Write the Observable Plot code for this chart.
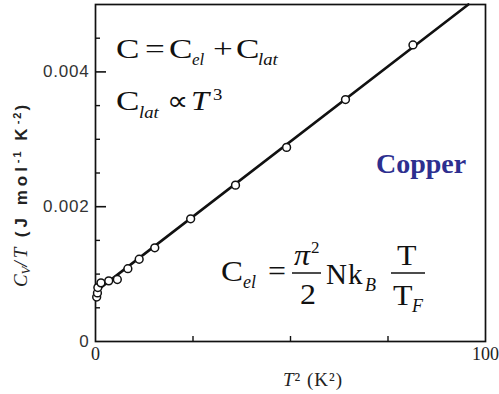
<!DOCTYPE html>
<html><head><meta charset="utf-8">
<script src="https://cdn.jsdelivr.net/npm/d3@7"></script>
<script src="https://cdn.jsdelivr.net/npm/@observablehq/plot@0.6"></script>
<style>
body{margin:0;background:#fff}
#chart{position:relative;width:499px;height:394px}
#chart svg g[aria-label="y-axis tick label"] text{letter-spacing:0.8px}
</style>
</head><body><div id="chart"></div>
<script>
// Measured data: T^2 (K^2) vs Cv/T (J mol^-1 K^-2) for copper
const t2 = [0.3, 0.5, 0.6, 1.4, 3.4, 5.6, 8.3, 11.2, 15.2, 24.4, 35.9, 49.0, 64.1, 81.4];
const cvT = [0.00066, 0.00072, 0.00080, 0.00087, 0.00090, 0.00092, 0.00108, 0.00122, 0.00139, 0.00182, 0.00232, 0.00288, 0.00359, 0.00440];
// Fitted straight line (end points)
const fitT2 = [0, 95.6];
const fitCvT = [0.00074, 0.00500];
// Axis ticks
const xMinorTicks = [25, 50, 75];
const xTickLabels = [0, 100];
const yMinorTicks = [0.0005, 0.001, 0.0015, 0.0025, 0.003, 0.0035, 0.0045];
const yMajorTicks = [0.002, 0.004];
const yTickLabels = [0, 0.002, 0.004];

const points = t2.map((x, i) => ({x, y: cvT[i]}));
const fit = fitT2.map((x, i) => ({x, y: fitCvT[i]}));

const W = 499, H = 394, ML = 95, MR = 14, MT = 4, MB = 53;
const PW = W - ML - MR, PH = H - MT - MB;

const plot = Plot.plot({
  width: W, height: H,
  marginLeft: ML, marginRight: MR, marginTop: MT, marginBottom: MB,
  style: {background: "#fff", color: "#111", overflow: "visible"},
  x: {domain: [0, 100]},
  y: {domain: [0, 0.005]},
  marks: [
    Plot.tickX(xMinorTicks, {x: d => d, insetTop: PH - 5, stroke: "#111", strokeWidth: 1.4}),
    Plot.tickY(yMinorTicks, {y: d => d, insetRight: PW - 5, stroke: "#111", strokeWidth: 1.4}),
    Plot.tickY(yMajorTicks, {y: d => d, insetRight: PW - 11, stroke: "#111", strokeWidth: 1.6}),
    Plot.axisX(xTickLabels, {tickSize: 0, tickPadding: 6, fontSize: 18, fontFamily: "Liberation Serif", fill: "#222", label: null}),
    Plot.axisY(yTickLabels, {tickSize: 0, tickPadding: 6, fontSize: 17, fontFamily: "Liberation Sans", fill: "#333",
      tickFormat: d => d === 0 ? "0" : d.toFixed(3), label: null}),
    Plot.frame({stroke: "#111", strokeWidth: 1.7}),
    Plot.line(fit, {x: "x", y: "y", stroke: "#111", strokeWidth: 2.6}),
    Plot.dot(points, {x: "x", y: "y", r: 3.9, fill: "#fff", stroke: "#111", strokeWidth: 1.5})
  ]
});
document.getElementById("chart").appendChild(plot);

const svg = d3.select(plot);
const g = svg.append("g").attr("font-family", "Liberation Serif").attr("fill", "#111").attr("text-anchor", "start");

function piece(x, y, s, opts = {}) {
  const sx = opts.sx || 1;
  const t = g.append("text").attr("transform", `translate(${x},${y}) scale(${sx},1)`).text(s)
    .attr("font-size", opts.size || 27);
  if (opts.italic) t.attr("font-style", "italic");
  if (opts.family) t.attr("font-family", opts.family);
  if (opts.weight) t.attr("font-weight", opts.weight);
  if (opts.fill) t.attr("fill", opts.fill);
  return t;
}

// C = C_el + C_lat
const s1 = 1.3;
piece(116, 58, "C", {sx: s1});
piece(145, 58, "=", {sx: s1});
piece(169, 58, "C", {sx: s1});
piece(192, 65, "el", {size: 17, italic: true});
piece(213, 58, "+", {sx: s1});
piece(236, 58, "C", {sx: s1});
piece(258, 65, "lat", {size: 17, italic: true, sx: 1.1});
// C_lat ∝ T^3
piece(116, 110, "C", {sx: s1});
piece(139, 118, "lat", {size: 17, italic: true, sx: 1.1});
piece(167, 110, "∝", {sx: 1.1});
piece(191, 110, "T", {italic: true, sx: 1.2});
piece(213, 100, "3", {size: 17, sx: 1.1});

// C_el = π²/2 N k_B T/T_F
const s3 = 1.1;
piece(221, 281, "C", {size: 30, sx: s3});
piece(243, 288, "el", {size: 18, italic: true});
piece(268, 281, "=", {size: 29, sx: s3});
g.append("line").attr("x1", 292).attr("x2", 321).attr("y1", 273).attr("y2", 273).attr("stroke", "#111").attr("stroke-width", 1.5);
piece(294, 265, "π", {size: 29, italic: true, sx: s3});
piece(311, 253, "2", {size: 17});
piece(300, 304, "2", {size: 29, sx: s3});
piece(326, 284, "N", {size: 29});
piece(348, 284, "k", {size: 29});
piece(365, 291, "B", {size: 18, italic: true});
g.append("line").attr("x1", 391).attr("x2", 425).attr("y1", 273).attr("y2", 273).attr("stroke", "#111").attr("stroke-width", 1.5);
piece(397, 265, "T", {size: 29, sx: s3});
piece(393, 305, "T", {size: 29, sx: s3});
piece(412, 312, "F", {size: 18, italic: true});

// Copper
piece(376, 173, "Copper", {size: 28, weight: "bold", fill: "#2d2f8f"});

// x axis label
const xl = g.append("text").attr("x", 313).attr("y", 386).attr("text-anchor", "middle").attr("font-size", 19).attr("fill", "#222").attr("letter-spacing", 1);
xl.append("tspan").attr("font-style", "italic").text("T");
xl.append("tspan").text("² (K²)");

// y axis label
const yl = g.append("text").attr("transform", "translate(27,196) rotate(-90)").attr("text-anchor", "middle").attr("fill", "#222").attr("font-size", 17);
const sans = t => t.attr("font-family", "Liberation Sans").attr("font-weight", "bold").attr("letter-spacing", 4);
yl.append("tspan").attr("font-style", "italic").attr("font-family", "Liberation Serif").attr("font-size", 19).text("C");
yl.append("tspan").attr("font-style", "italic").attr("font-family", "Liberation Serif").attr("font-size", 13).attr("dy", 3).text("V");
yl.append("tspan").attr("font-style", "italic").attr("font-family", "Liberation Serif").attr("font-size", 19).attr("dy", -3).attr("letter-spacing", 3).text("/T ");
sans(yl.append("tspan")).text("(J mol");
sans(yl.append("tspan")).attr("font-size", 11).attr("dy", -6).attr("letter-spacing", 2).text("-1");
sans(yl.append("tspan")).attr("dy", 6).text(" K");
sans(yl.append("tspan")).attr("font-size", 11).attr("dy", -6).attr("letter-spacing", 2).text("-2");
sans(yl.append("tspan")).attr("dy", 6).attr("letter-spacing", 0).text(")");
</script>
</body></html>
